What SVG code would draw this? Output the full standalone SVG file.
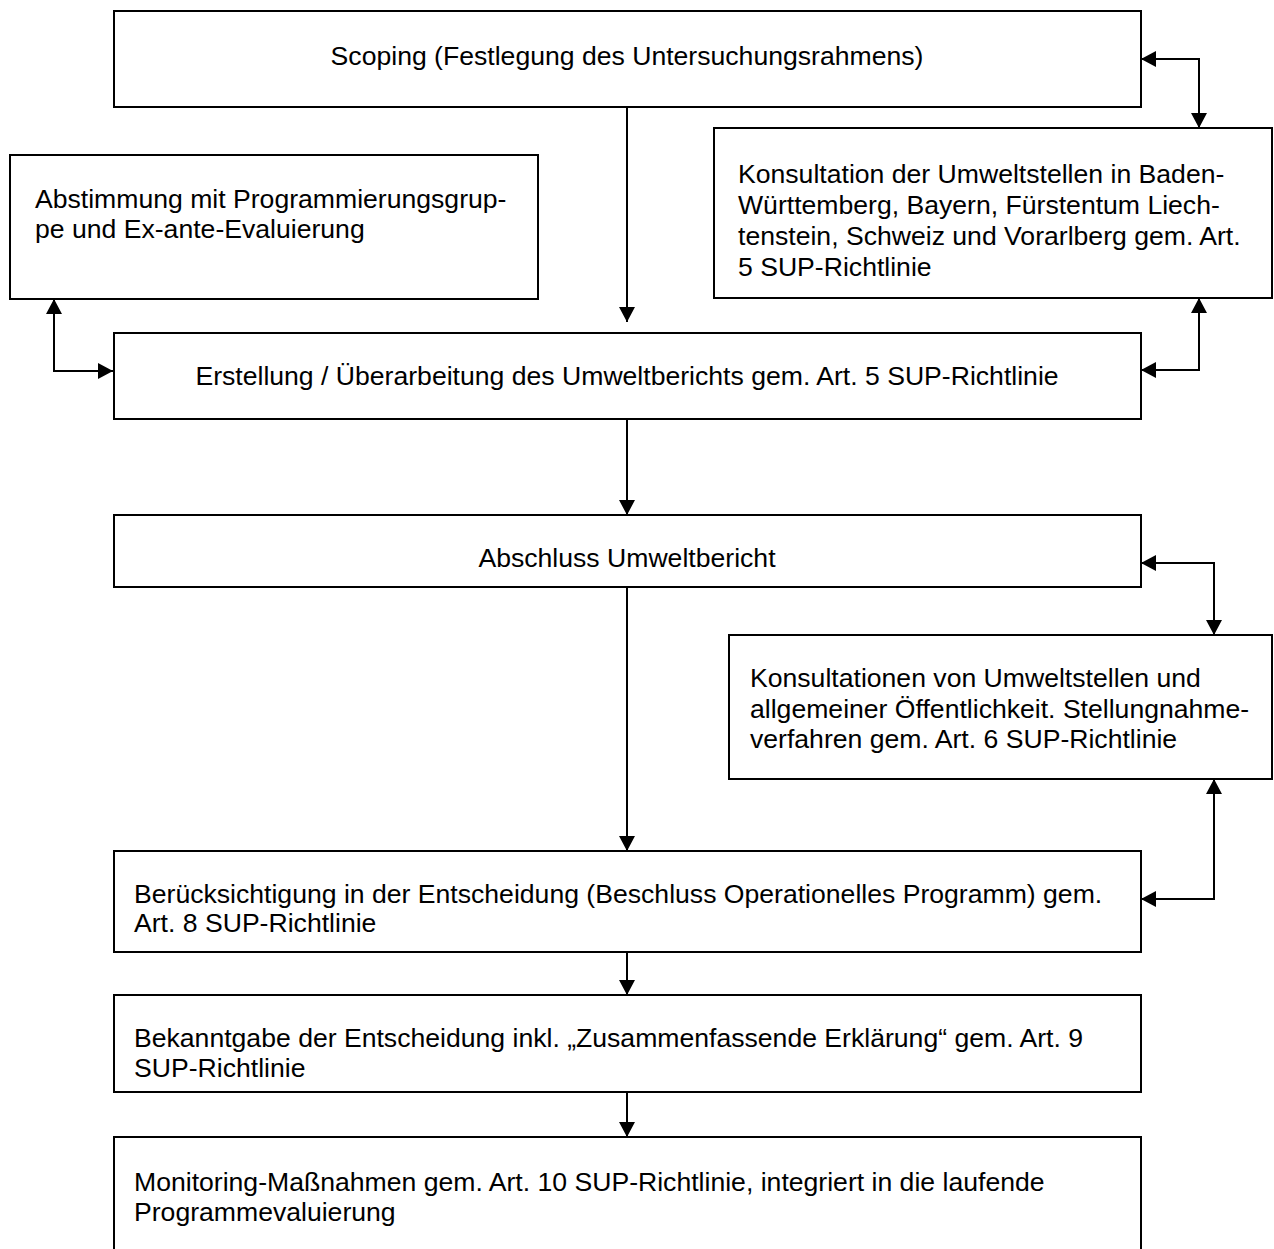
<svg xmlns="http://www.w3.org/2000/svg" width="1274" height="1249" viewBox="0 0 1274 1249">
<defs>
<style>
.box{fill:#fff;stroke:#000;stroke-width:2}
.t{font-family:"Liberation Sans",Arial,Helvetica,sans-serif;font-size:26.6px;fill:#000}
.c{text-anchor:middle}
.con{fill:none;stroke:#000;stroke-width:2}
</style>
<marker id="ah" markerUnits="userSpaceOnUse" markerWidth="15" markerHeight="16" refX="15" refY="8" orient="auto-start-reverse" viewBox="0 0 15 16">
<path d="M0,0 L15,8 L0,16 Z" fill="#000"/>
</marker>
</defs>
<rect width="1274" height="1249" fill="#fff"/>
<g id="n-scoping">
<rect class="box" x="114" y="11" width="1027" height="96"/>
<text class="t c" x="627" y="65">Scoping (Festlegung des Untersuchungsrahmens)</text>
</g>
<g id="n-abstimmung">
<rect class="box" x="10" y="155" width="528" height="144"/>
<text class="t" x="35" y="208">Abstimmung mit Programmierungsgrup-</text>
<text class="t" x="35" y="238">pe und Ex-ante-Evaluierung</text>
</g>
<g id="n-konsultation">
<rect class="box" x="714" y="128" width="558" height="170"/>
<text class="t" x="738" y="183">Konsultation der Umweltstellen in Baden-</text>
<text class="t" x="738" y="214">Württemberg, Bayern, Fürstentum Liech-</text>
<text class="t" x="738" y="245">tenstein, Schweiz und Vorarlberg gem. Art.</text>
<text class="t" x="738" y="276">5 SUP-Richtlinie</text>
</g>
<g id="n-erstellung">
<rect class="box" x="114" y="333" width="1027" height="86"/>
<text class="t c" x="627" y="385">Erstellung / Überarbeitung des Umweltberichts gem. Art. 5 SUP-Richtlinie</text>
</g>
<g id="n-abschluss">
<rect class="box" x="114" y="515" width="1027" height="72"/>
<text class="t c" x="627" y="567">Abschluss Umweltbericht</text>
</g>
<g id="n-konsultationen">
<rect class="box" x="729" y="635" width="543" height="144"/>
<text class="t" x="750" y="687">Konsultationen von Umweltstellen und</text>
<text class="t" x="750" y="718">allgemeiner Öffentlichkeit. Stellungnahme-</text>
<text class="t" x="750" y="748">verfahren gem. Art. 6 SUP-Richtlinie</text>
</g>
<g id="n-beruecksichtigung">
<rect class="box" x="114" y="851" width="1027" height="101"/>
<text class="t" x="134" y="903">Berücksichtigung in der Entscheidung (Beschluss Operationelles Programm) gem.</text>
<text class="t" x="134" y="932">Art. 8 SUP-Richtlinie</text>
</g>
<g id="n-bekanntgabe">
<rect class="box" x="114" y="995" width="1027" height="97"/>
<text class="t" x="134" y="1047">Bekanntgabe der Entscheidung inkl. „Zusammenfassende Erklärung“ gem. Art. 9</text>
<text class="t" x="134" y="1077">SUP-Richtlinie</text>
</g>
<g id="n-monitoring">
<rect class="box" x="114" y="1137" width="1027" height="130"/>
<text class="t" x="134" y="1191">Monitoring-Maßnahmen gem. Art. 10 SUP-Richtlinie, integriert in die laufende</text>
<text class="t" x="134" y="1221">Programmevaluierung</text>
</g>
<g id="connectors">
<path class="con" d="M1141,59 H1199 V128" marker-start="url(#ah)" marker-end="url(#ah)"/>
<path class="con" d="M1199,298 V370 H1141" marker-start="url(#ah)" marker-end="url(#ah)"/>
<path class="con" d="M54,299 V371 H113" marker-start="url(#ah)" marker-end="url(#ah)"/>
<path class="con" d="M627,107 V322" marker-end="url(#ah)"/>
<path class="con" d="M627,419 V515" marker-end="url(#ah)"/>
<path class="con" d="M1141,563 H1214 V635" marker-start="url(#ah)" marker-end="url(#ah)"/>
<path class="con" d="M1214,779 V899 H1141" marker-start="url(#ah)" marker-end="url(#ah)"/>
<path class="con" d="M627,587 V851" marker-end="url(#ah)"/>
<path class="con" d="M627,952 V995" marker-end="url(#ah)"/>
<path class="con" d="M627,1092 V1137" marker-end="url(#ah)"/>
</g>
</svg>
